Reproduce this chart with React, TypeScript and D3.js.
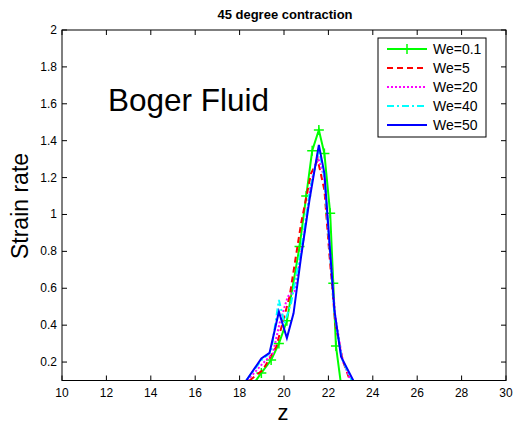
import React from 'react';
import * as d3 from 'd3';

// strain rate profiles along z
const zWe01 = [18.5, 18.98, 19.42, 19.77, 20.13, 20.7, 21.0, 21.27, 21.57, 21.82, 22.08, 22.22, 22.34, 22.6];
const sWe01 = [0.06, 0.141, 0.211, 0.3, 0.424, 0.826, 1.1, 1.346, 1.458, 1.33, 1.006, 0.627, 0.287, 0.05];

const zWe5 = [18.45, 19.05, 19.65, 20.25, 20.77, 21.22, 21.52, 21.82, 22.04, 22.31, 22.64, 22.97];
const sWe5 = [0.1, 0.157, 0.283, 0.555, 0.952, 1.223, 1.295, 1.133, 0.79, 0.41, 0.211, 0.1];

const zWe20 = [18.35, 19.05, 19.5, 19.8, 20.17, 20.47, 20.85, 21.22, 21.52, 21.82, 22.04, 22.31, 22.64, 23.0];
const sWe20 = [0.1, 0.193, 0.247, 0.41, 0.555, 0.582, 0.844, 1.17, 1.313, 1.2, 0.844, 0.446, 0.21, 0.1];

const zWe40 = [18.3, 18.98, 19.42, 19.77, 20.02, 20.32, 20.77, 21.15, 21.57, 21.82, 22.04, 22.27, 22.6, 23.05];
const sWe40 = [0.1, 0.21, 0.255, 0.537, 0.41, 0.52, 0.807, 1.12, 1.355, 1.2, 0.844, 0.464, 0.22, 0.1];

const zWe50 = [18.3, 18.98, 19.35, 19.77, 20.13, 20.43, 20.77, 21.15, 21.57, 21.82, 22.04, 22.27, 22.57, 23.12];
const sWe50 = [0.1, 0.22, 0.25, 0.473, 0.33, 0.464, 0.771, 1.08, 1.377, 1.223, 0.862, 0.482, 0.229, 0.1];

const xTicks = [10, 12, 14, 16, 18, 20, 22, 24, 26, 28, 30];
const yTicks = [0.2, 0.4, 0.6, 0.8, 1, 1.2, 1.4, 1.6, 1.8, 2];

const series = [
  { label: 'We=0.1', z: zWe01, s: sWe01, color: '#00ff00', dash: '', marker: true },
  { label: 'We=5', z: zWe5, s: sWe5, color: '#ff0000', dash: '6,4', marker: false },
  { label: 'We=20', z: zWe20, s: sWe20, color: '#ff00ff', dash: '2,2', marker: false },
  { label: 'We=40', z: zWe40, s: sWe40, color: '#00ffff', dash: '7,3,2,3', marker: false },
  { label: 'We=50', z: zWe50, s: sWe50, color: '#0000ff', dash: '', marker: false },
];

const W = 513, H = 428;
const L = 62, R = 506, T = 30, B = 380.5;
const font = 'Liberation Sans, Arial, sans-serif';

export default function App() {
  const x = d3.scaleLinear().domain([10, 30]).range([L, R]);
  const y = d3.scaleLinear().domain([0.1, 2]).range([B, T]);

  return (
    <div style={{ position: 'absolute', left: 0, top: 0 }}>
      <svg width={W} height={H} style={{ display: 'block', background: '#fff' }} fontFamily={font}>
        <defs>
          <clipPath id="plot">
            <rect x={L} y={T} width={R - L} height={B - T} />
          </clipPath>
        </defs>
        <rect x={L} y={T} width={R - L} height={B - T} fill="#fff" />

        {/* ticks on all four sides, pointing in */}
        {xTicks.map(t => (
          <g key={'x' + t}>
            <line x1={x(t)} x2={x(t)} y1={B} y2={B - 5} stroke="#000" />
            <line x1={x(t)} x2={x(t)} y1={T} y2={T + 5} stroke="#000" />
            <text x={x(t)} y={397} fontSize={12} textAnchor="middle">{t}</text>
          </g>
        ))}
        {yTicks.map(t => (
          <g key={'y' + t}>
            <line x1={L} x2={L + 5} y1={y(t)} y2={y(t)} stroke="#000" />
            <line x1={R} x2={R - 5} y1={y(t)} y2={y(t)} stroke="#000" />
            <text x={57} y={y(t) + 4} fontSize={12} textAnchor="end">{t}</text>
          </g>
        ))}

        <g clipPath="url(#plot)">
          {series.map(sr => {
            const pts = sr.z.map((z, i) => [x(z), y(sr.s[i])] as [number, number]);
            return (
              <g key={sr.label}>
                <path d={d3.line()(pts) || ''} fill="none" stroke={sr.color} strokeWidth={2}
                  strokeDasharray={sr.dash || undefined} />
                {sr.marker && pts.slice(1, -1).map((p, i) => (
                  <path key={i} d={`M${p[0] - 5},${p[1]}H${p[0] + 5}M${p[0]},${p[1] - 5}V${p[1] + 5}`}
                    stroke={sr.color} strokeWidth={1.5} />
                ))}
              </g>
            );
          })}
        </g>

        <rect x={L} y={T} width={R - L} height={B - T} fill="none" stroke="#000" />

        <text x={285} y={19} fontSize={13} fontWeight="bold" textAnchor="middle">45 degree contraction</text>
        <text x={108} y={111} fontSize={31.5}>Boger Fluid</text>
        <text x={283} y={420} fontSize={22} textAnchor="middle">z</text>
        <text transform={`translate(28,206) rotate(-90)`} fontSize={23} textAnchor="middle">Strain rate</text>

        {/* legend */}
        <g>
          <rect x={378} y={38} width={108} height={99} fill="#fff" stroke="#000" />
          {series.map((sr, i) => {
            const ly = 49 + i * 19;
            return (
              <g key={sr.label}>
                <line x1={387} x2={427} y1={ly} y2={ly} stroke={sr.color} strokeWidth={2}
                  strokeDasharray={sr.dash || undefined} />
                {sr.marker && (
                  <path d={`M407,${ly - 5}V${ly + 5}`} stroke={sr.color} strokeWidth={1.5} />
                )}
                <text x={433} y={ly + 5} fontSize={14}>{sr.label}</text>
              </g>
            );
          })}
        </g>
      </svg>
    </div>
  );
}
